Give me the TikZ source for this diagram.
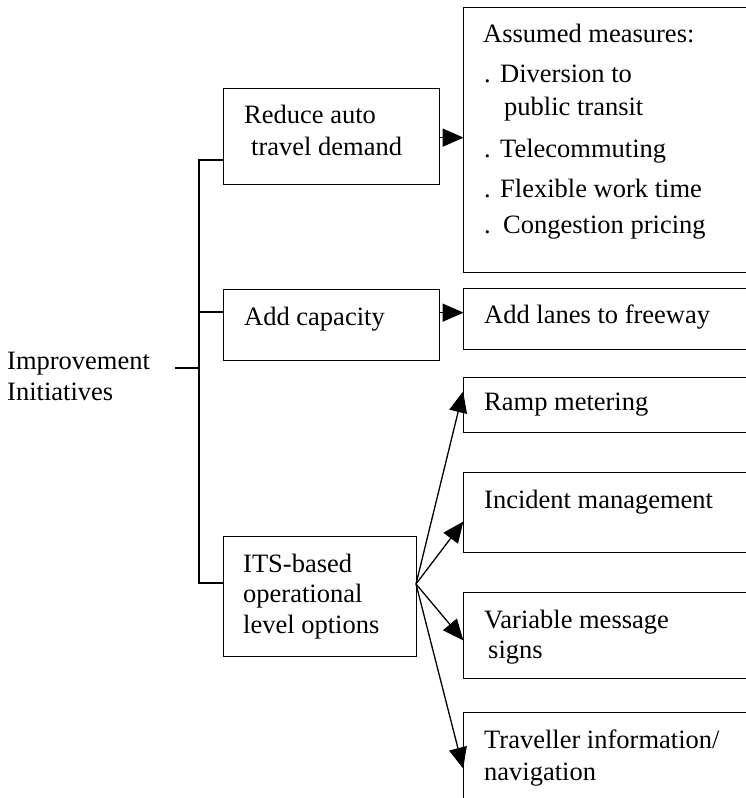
\documentclass[tikz,border=0pt]{standalone}
\usepackage{fontspec}
\setmainfont{Liberation Serif}
\usetikzlibrary{arrows.meta}
\tikzset{
  box/.style={draw, line width=1.3pt, rectangle, anchor=north west, inner sep=0pt},
  txt/.style={anchor=base west, inner sep=0pt, font=\fontsize{26.5}{32}\selectfont},
  conn/.style={line width=1.3pt},
  arr/.style={line width=1.3pt, -{Triangle[length=21pt,width=18pt]}, shorten >=-0.6pt}
}
\begin{document}
\begin{tikzpicture}[x=1pt,y=-1pt]
\useasboundingbox (0,0) rectangle (746,798);
\clip (0,0) rectangle (746,798);
% boxes
\node[box, minimum width=216pt, minimum height=96pt] (reduce) at (223,88) {};
\node[box, minimum width=216pt, minimum height=71pt] (cap) at (223,289) {};
\node[box, minimum width=193pt, minimum height=120pt] (its) at (223,536) {};
\node[box, minimum width=300pt, minimum height=265pt] (measures) at (463,7) {};
\node[box, minimum width=300pt, minimum height=61pt] (lanes) at (463,288) {};
\node[box, minimum width=300pt, minimum height=55pt] (ramp) at (463,377) {};
\node[box, minimum width=300pt, minimum height=80pt] (incident) at (463,472) {};
\node[box, minimum width=300pt, minimum height=86pt] (variable) at (463,592) {};
\node[box, minimum width=300pt, minimum height=120pt] (travel) at (463,712) {};
% texts
\node[txt] (imp1) at (7,369) {Improvement};
\node[txt] (imp2) at (7,400) {Initiatives};
\node[txt] (red1) at (244,123) {Reduce auto};
\node[txt] (red2) at (251,155) {travel demand};
\node[txt] (cap1) at (244,325) {Add capacity};
\node[txt] (its1) at (243,572) {ITS-based};
\node[txt] (its2) at (243,602) {operational};
\node[txt] (its3) at (243,633) {level options};
\node[txt] (m0) at (483,42) {Assumed measures:};
\node[txt] (b1) at (484,82) {.};
\node[txt] (m1) at (500,82) {Diversion to};
\node[txt] (m1b) at (504,115) {public transit};
\node[txt] (b2) at (484,157) {.};
\node[txt] (m2) at (500,157) {Telecommuting};
\node[txt] (b3) at (484,197) {.};
\node[txt] (m3) at (500,197) {Flexible work time};
\node[txt] (b4) at (484,233) {.};
\node[txt] (m4) at (503,233) {Congestion pricing};
\node[txt] (lan1) at (484,323) {Add lanes to freeway};
\node[txt] (ram1) at (484,410) {Ramp metering};
\node[txt] (inc1) at (484,508) {Incident management};
\node[txt] (var1) at (484,628) {Variable message};
\node[txt] (var2) at (488,658) {signs};
\node[txt] (tra1) at (484,748) {Traveller information/};
\node[txt] (tra2) at (484,780) {navigation};
% trunk
\coordinate (t1) at (199,160);
\coordinate (t2) at (199,312);
\coordinate (t0) at (199,368);
\coordinate (t3) at (199,583);
\coordinate (iend) at (175,368);
\draw[conn] (reduce.west |- t1) -- (t1) -- (t3) -- (its.west |- t3);
\draw[conn] (t2) -- (cap.west |- t2);
\draw[conn] (iend) -- (t0);
% arrows
\coordinate (a1) at ([yshift=-1pt]reduce.east);
\coordinate (a2) at ([yshift=12.5pt]cap.east);
\draw[arr] (a1) -- (measures.west |- a1);
\draw[arr] (a2) -- (lanes.west |- a2);
\coordinate (src) at (416,584);
\draw[arr] (src) -- ([yshift=-15pt]ramp.north west);
\draw[arr] (src) -- ([yshift=-50pt]incident.north west);
\draw[arr] (src) -- ([yshift=-48pt]variable.north west);
\draw[arr] (src) -- ([yshift=-56pt]travel.north west);
\end{tikzpicture}
\end{document}
